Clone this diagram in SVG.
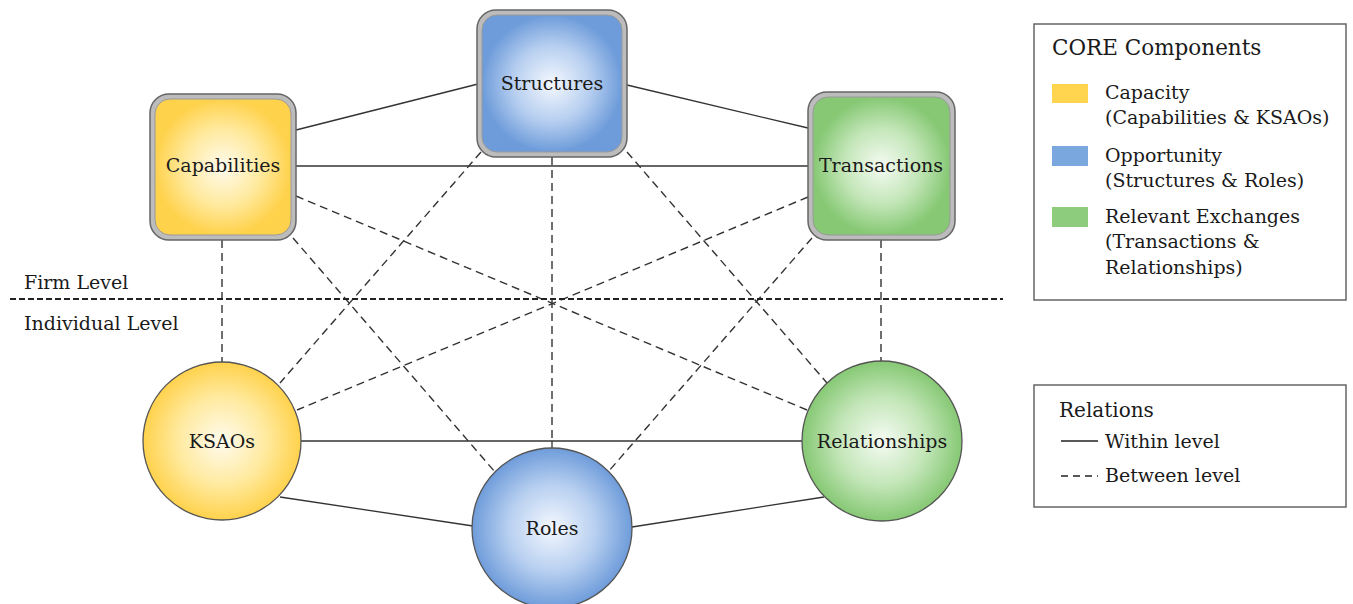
<svg xmlns="http://www.w3.org/2000/svg" width="1353" height="604" viewBox="0 0 1353 604">
<defs>
<radialGradient id="gY" cx="50%" cy="50%" r="50%"><stop offset="0" stop-color="#FFFBEE"/><stop offset="0.55" stop-color="#FFEAA0"/><stop offset="1" stop-color="#FFD24C"/></radialGradient>
<radialGradient id="gB" cx="50%" cy="50%" r="50%"><stop offset="0" stop-color="#F4F8FE"/><stop offset="0.55" stop-color="#B7CFF0"/><stop offset="1" stop-color="#6E9CDA"/></radialGradient>
<radialGradient id="gG" cx="50%" cy="50%" r="50%"><stop offset="0" stop-color="#F5FBF3"/><stop offset="0.55" stop-color="#C3E6B8"/><stop offset="1" stop-color="#86C874"/></radialGradient>
<style>
text{font-family:"DejaVu Serif","Liberation Serif",serif;fill:#1a1a1a}
.lbl{font-size:19px;text-anchor:middle}
.lg{font-size:19px}
.solid{stroke:#333;stroke-width:1.3;fill:none}
.dash{stroke:#333;stroke-width:1.4;fill:none;stroke-dasharray:8 5}
.outer{fill:#bcbcbc;stroke:#666;stroke-width:1.5}
.circ{stroke:#555;stroke-width:1.3}
.box{fill:#fff;stroke:#666;stroke-width:1.5}
</style>
</defs>
<rect width="1353" height="604" fill="#fff"/>
<g id="connectors">
<line class="solid" x1="296" y1="130" x2="478" y2="84"/>
<line class="solid" x1="627" y1="85" x2="808" y2="128"/>
<line class="solid" x1="296" y1="166" x2="808" y2="166"/>
<line class="solid" x1="301" y1="441" x2="802" y2="441"/>
<line class="solid" x1="280" y1="497" x2="473" y2="526"/>
<line class="solid" x1="632" y1="527" x2="824" y2="497"/>
<line class="solid" x1="552" y1="441" x2="552" y2="449"/>
<line class="dash" x1="222" y1="240" x2="222" y2="362"/>
<line class="dash" x1="552" y1="157" x2="552" y2="441"/>
<line class="dash" x1="881" y1="240" x2="881" y2="362"/>
<line class="dash" x1="296" y1="196" x2="807" y2="410"/>
<line class="dash" x1="808" y1="197" x2="297" y2="410"/>
<line class="dash" x1="293" y1="238" x2="495" y2="472"/>
<line class="dash" x1="812" y1="238" x2="608" y2="472"/>
<line class="dash" x1="481" y1="152" x2="280" y2="383"/>
<line class="dash" x1="627" y1="152" x2="827" y2="383"/>
<line x1="10" y1="299" x2="1003" y2="299" stroke="#222" stroke-width="2.2" stroke-dasharray="6 3"/>
</g>
<g id="level-labels">
<text x="24" y="289" font-size="19">Firm Level</text>
<text x="24" y="330" font-size="19">Individual Level</text>
</g>
<g id="capabilities">
<rect class="outer" x="150" y="94" width="146" height="146" rx="19"/>
<rect x="155" y="99" width="136" height="136" rx="15" fill="url(#gY)" stroke="#9a9a9a" stroke-width="1"/>
<text class="lbl" x="223" y="172">Capabilities</text>
</g>
<g id="structures">
<rect class="outer" x="477" y="10" width="150" height="147" rx="19"/>
<rect x="482" y="15" width="140" height="137" rx="15" fill="url(#gB)" stroke="#9a9a9a" stroke-width="1"/>
<text class="lbl" x="552" y="90">Structures</text>
</g>
<g id="transactions">
<rect class="outer" x="808" y="92" width="147" height="148" rx="19"/>
<rect x="813" y="97" width="137" height="138" rx="15" fill="url(#gG)" stroke="#9a9a9a" stroke-width="1"/>
<text class="lbl" x="881" y="172">Transactions</text>
</g>
<g id="ksaos">
<circle class="circ" cx="222" cy="441" r="79" fill="url(#gY)"/>
<text class="lbl" x="222" y="448">KSAOs</text>
</g>
<g id="roles">
<circle class="circ" cx="552" cy="528" r="80" fill="url(#gB)"/>
<text class="lbl" x="552" y="535">Roles</text>
</g>
<g id="relationships">
<circle class="circ" cx="882" cy="441" r="80" fill="url(#gG)"/>
<text class="lbl" x="882" y="448">Relationships</text>
</g>
<g id="legend-core">
<rect class="box" x="1034" y="24" width="312" height="276"/>
<text x="1052" y="55" font-size="21.5">CORE Components</text>
<rect x="1052" y="84" width="36" height="19" fill="#FFD54F"/>
<rect x="1052" y="146" width="36" height="20" fill="#7BA7DF"/>
<rect x="1052" y="207" width="36" height="20" fill="#8DCB7D"/>
<text class="lg" x="1105" y="99">Capacity</text>
<text class="lg" x="1105" y="124">(Capabilities &amp; KSAOs)</text>
<text class="lg" x="1105" y="162">Opportunity</text>
<text class="lg" x="1105" y="187">(Structures &amp; Roles)</text>
<text class="lg" x="1105" y="223">Relevant Exchanges</text>
<text class="lg" x="1105" y="248">(Transactions &amp;</text>
<text class="lg" x="1105" y="274">Relationships)</text>
</g>
<g id="legend-relations">
<rect class="box" x="1034" y="385" width="312" height="122"/>
<text x="1059" y="417" font-size="20">Relations</text>
<line x1="1061" y1="441" x2="1098" y2="441" stroke="#222" stroke-width="1.3"/>
<text class="lg" x="1105" y="448">Within level</text>
<line x1="1061" y1="476" x2="1098" y2="476" stroke="#222" stroke-width="1.3" stroke-dasharray="7 5"/>
<text class="lg" x="1105" y="482">Between level</text>
</g>
</svg>
